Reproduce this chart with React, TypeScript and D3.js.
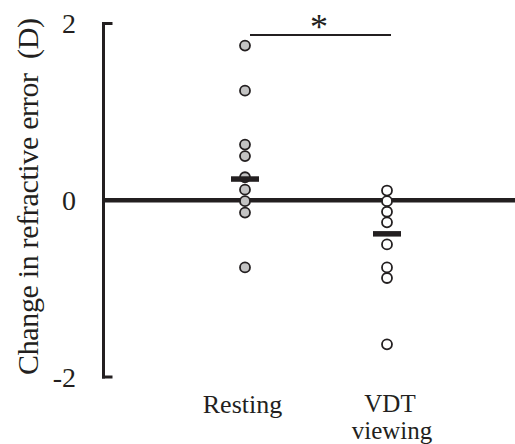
import React from "react";
import * as d3 from "d3";

const categories = ["Resting", "VDT viewing"];
const restingValues = [1.75, 1.24, 0.63, 0.5, 0.26, 0.12, -0.01, -0.14, -0.76];
const vdtValues = [0.11, -0.01, -0.13, -0.25, -0.5, -0.76, -0.88, -1.63];
const centerValues = [0.24, -0.38];
const yTicks = [2, 0, -2];
const yTitle = "Change in refractive error\u00A0\u00A0(D)";

const W = 515;
const H = 444;
const FONT = "'Liberation Serif', 'Times New Roman', serif";

export default function App() {
  const y = d3.scaleLinear().domain([-2, 2]).range([377, 23.5]);
  const x = d3.scalePoint<string>().domain(categories).range([245, 387]);
  const axisX = 103.5;
  const series = [
    { cat: categories[0], values: restingValues, fill: "#c3c3c3" },
    { cat: categories[1], values: vdtValues, fill: "#ffffff" },
  ];
  const x0 = x(categories[0])!;
  const x1 = x(categories[1])!;
  return (
    <svg width={W} height={H} style={{ position: "absolute", left: 0, top: 0, display: "block" }}>
      <rect width={W} height={H} fill="#fff" />
      {/* y axis */}
      <line x1={axisX} x2={axisX} y1={y(2) - 1.5} y2={y(-2) + 1.5} stroke="#231f20" strokeWidth={3} />
      {yTicks.map((t) => (
        <g key={t}>
          <line x1={axisX - 1.5} x2={t === 0 ? W : axisX + 9} y1={y(t)} y2={y(t)} stroke="#231f20" strokeWidth={t === 0 ? 4.5 : 3} />
          <text x={76} y={y(t)} dy="0.35em" textAnchor="end" fontFamily={FONT} fontSize={28} fill="#231f20">
            {t < 0 ? `-${Math.abs(t)}` : t}
          </text>
        </g>
      ))}
      <text
        transform={`translate(38,196.5) rotate(-90)`}
        textAnchor="middle"
        fontFamily={FONT}
        fontSize={30}
        textLength={357}
        lengthAdjust="spacing"
        fill="#231f20"
      >
        {yTitle}
      </text>
      {/* points */}
      {series.map((s) =>
        s.values.map((v, i) => (
          <circle key={s.cat + i} cx={x(s.cat)} cy={y(v)} r={5} fill={s.fill} stroke="#231f20" strokeWidth={1.8} />
        ))
      )}
      {/* center bars */}
      {categories.map((c, i) => (
        <line key={c} x1={x(c)! - 14} x2={x(c)! + 14} y1={y(centerValues[i])} y2={y(centerValues[i])} stroke="#231f20" strokeWidth={5.5} />
      ))}
      {/* significance */}
      <line x1={x0 + 5} x2={x1 + 4} y1={35} y2={35} stroke="#231f20" strokeWidth={2.2} />
      <text x={(x0 + x1) / 2 + 3} y={39} textAnchor="middle" fontFamily={FONT} fontSize={36} fill="#231f20">
        *
      </text>
      {/* category labels */}
      <text x={x0 - 2.5} y={413} textAnchor="middle" fontFamily={FONT} fontSize={26} fill="#231f20">
        Resting
      </text>
      <text x={x1 + 3} y={412} textAnchor="middle" fontFamily={FONT} fontSize={25} fill="#231f20">
        VDT
      </text>
      <text x={x1 + 5} y={439} textAnchor="middle" fontFamily={FONT} fontSize={25} fill="#231f20">
        viewing
      </text>
    </svg>
  );
}
